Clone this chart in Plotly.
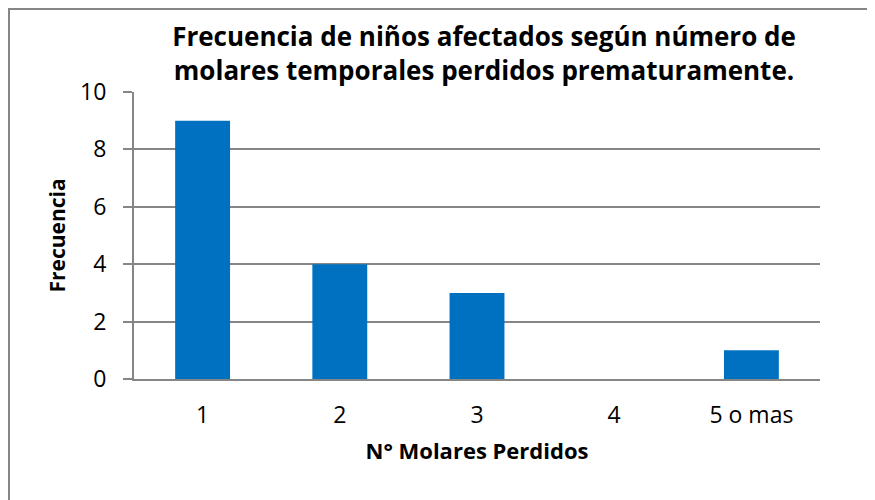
import plotly.graph_objects as go

categories = ["1", "2", "3", "4", "5 o mas"]
frecuencia = [9, 4, 3, 0, 1]
y_ticks = [0, 2, 4, 6, 8, 10]

# page body has an 8px margin, so the figure is laid out in page coords minus 8
OFF = 8
W, H = 875 - OFF, 500 - OFF
L, R, T, B = 134 - OFF, 875 - 820, 92 - OFF, 500 - 379
pw, ph = W - L - R, H - T - B

def px(xs):
    return (xs - OFF - L) / pw

def py(ys):
    return (H - B - (ys - OFF)) / ph

FONT = "Open Sans"
fig = go.Figure(go.Bar(x=categories, y=frecuencia, marker=dict(color="#0070C0", line=dict(width=0))))

fig.update_layout(
    width=W, height=H,
    margin=dict(l=L, r=R, t=T, b=B),
    paper_bgcolor="white", plot_bgcolor="white",
    bargap=0.6,
    showlegend=False,
    font=dict(family=FONT, color="black"),
    title=dict(
        text="<b>Frecuencia de niños afectados según número de<br>molares temporales perdidos prematuramente.</b>",
        x=(484 - OFF) / W, xanchor="center", y=1 - (46 - OFF) / H, yanchor="middle",
        font=dict(family=FONT, size=26, color="black"),
    ),
    xaxis=dict(
        showline=True, linecolor="#868686", linewidth=2,
        ticks="", tickfont=dict(size=23), ticklabelstandoff=14,
        title=dict(text="<b>N° Molares Perdidos</b>", font=dict(size=22), standoff=15),
        showgrid=False,
    ),
    yaxis=dict(
        range=[0, 10], tickvals=y_ticks, showline=True, linecolor="#868686", linewidth=2,
        ticks="outside", ticklen=9, tickcolor="#868686", tickwidth=2,
        tickfont=dict(size=23), ticklabelstandoff=12,
        showgrid=True, gridcolor="#868686", gridwidth=1.5,
        zeroline=False,
        title=dict(text="<b>Frecuencia</b>", font=dict(size=21), standoff=9),
    ),
    shapes=[dict(type="rect", xref="paper", yref="paper",
                 x0=px(OFF + 1), x1=px(900), y0=py(520), y1=py(OFF + 1),
                 line=dict(color="#868686", width=2), fillcolor="rgba(0,0,0,0)", layer="below")],
)

fig.write_html("out.html")
